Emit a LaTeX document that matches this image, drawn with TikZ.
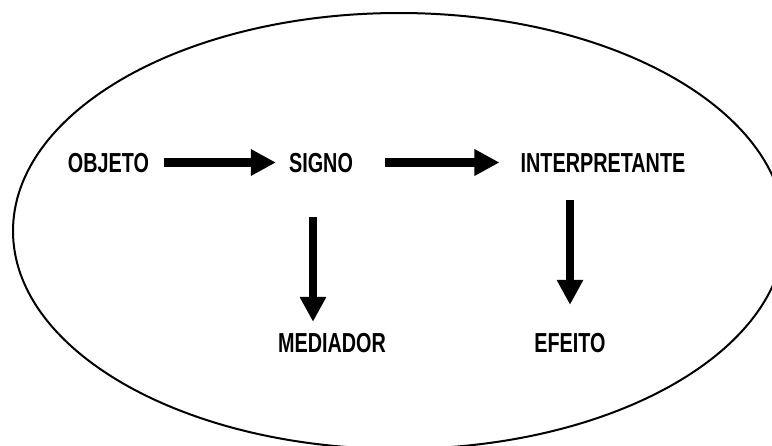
\documentclass[tikz,border=0pt]{standalone}
\usepackage{fontspec}
\usepackage{tikz}
\usetikzlibrary{arrows.meta}
\newfontfamily\rotulofont{Liberation Sans}[FakeStretch=0.72]

\begin{document}
\begin{tikzpicture}[x=1pt,y=-1pt,
		rotulo/.style={font=\rotulofont\bfseries\fontsize{27.5}{30}\selectfont,inner sep=0pt,text height=19pt,text depth=0pt,anchor=base},
		seta/.style={line width=8.5pt,-{Triangle[length=25pt,width=25pt]}}]
		\useasboundingbox (0,0) rectangle (772,445);
		\clip (0,0) rectangle (772,445);
		% contorno
		\draw[line width=2pt] (399,231) ellipse [x radius=386,y radius=218];
		% rotulos
		\node[rotulo] (objeto) at (108.5,172) {OBJETO};
		\node[rotulo] (signo) at (321,172) {SIGNO};
		\node[rotulo] (interpretante) at (603,172) {INTERPRETANTE};
		\node[rotulo] (mediador) at (332,352) {MEDIADOR};
		\node[rotulo] (efeito) at (570,352) {EFEITO};
		\coordinate (eixo) at ([xshift=-8pt]signo.south);
		% setas
		\draw[seta,shorten <=15pt,shorten >=13pt] (objeto.east) -- (signo.west);
		\draw[seta,shorten <=32pt,shorten >=21pt] (signo.east) -- (interpretante.west);
		\draw[seta,shorten <=45pt,shorten >=11pt] (eixo) -- (eixo |- mediador.north);
		\draw[seta,shorten <=28pt,shorten >=28pt] (interpretante.south -| efeito) -- (efeito.north);
	\end{tikzpicture}
\end{document}
